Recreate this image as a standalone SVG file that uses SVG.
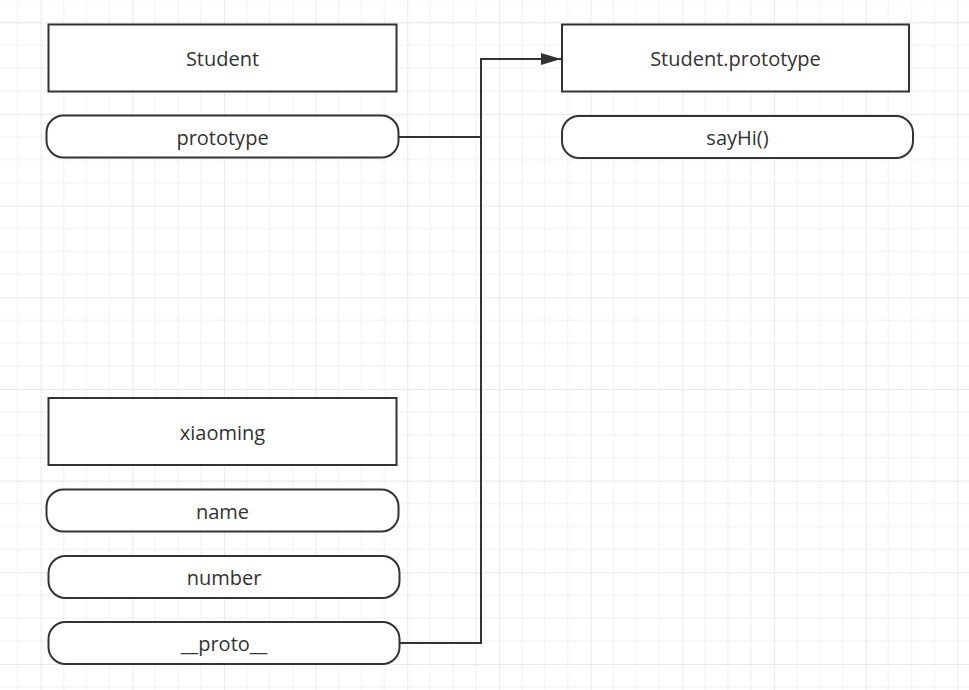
<svg xmlns="http://www.w3.org/2000/svg" width="969" height="690" viewBox="0 0 969 690">
<style>
.box{fill:#ffffff;stroke:#333333;stroke-width:2}
.lbl{font-family:"Open Sans","Noto Sans","Liberation Sans",sans-serif;font-size:20px;fill:#333333;text-anchor:middle}
.conn{fill:none;stroke:#333333;stroke-width:2}
</style>
<defs>
<pattern id="grid" patternUnits="userSpaceOnUse" x="40.6" y="22.3" width="91.67" height="91.67">
<path d="M22.92 0V91.67M45.83 0V91.67M68.75 0V91.67M0 22.92H91.67M0 45.83H91.67M0 68.75H91.67" stroke="#f0f0f0" stroke-width="1" fill="none"/>
<path d="M0 0V91.67M0 0H91.67" stroke="#e3e3e3" stroke-width="1.5" fill="none"/>
</pattern>
<marker id="arrow" markerUnits="userSpaceOnUse" markerWidth="20" markerHeight="14" refX="20" refY="7" orient="auto">
<path d="M0 1L20 7L0 13Z" fill="#333333"/>
</marker>
</defs>
<rect width="969" height="690" fill="#ffffff"/>
<rect width="969" height="690" fill="url(#grid)"/>
<g id="connectors">
<path class="conn" d="M398.5 137H481V59H561" marker-end="url(#arrow)"/>
<path class="conn" d="M399.5 643H481V59"/>
</g>
<g id="student">
<rect class="box" x="48.5" y="24.5" width="348" height="67"/>
<text class="lbl" x="222.5" y="66">Student</text>
</g>
<g id="student-prototype-prop">
<rect class="box" x="46.5" y="115.5" width="352" height="42" rx="17" ry="17"/>
<text class="lbl" x="222.5" y="145">prototype</text>
</g>
<g id="student-prototype">
<rect class="box" x="562" y="24.5" width="347" height="67"/>
<text class="lbl" x="735.5" y="66">Student.prototype</text>
</g>
<g id="sayhi">
<rect class="box" x="562" y="116" width="351" height="42" rx="17" ry="17"/>
<text class="lbl" x="737.5" y="145">sayHi()</text>
</g>
<g id="xiaoming">
<rect class="box" x="48.5" y="398" width="348" height="67"/>
<text class="lbl" x="222.5" y="440">xiaoming</text>
</g>
<g id="name">
<rect class="box" x="46.5" y="489.5" width="352" height="42" rx="17" ry="17"/>
<text class="lbl" x="222.5" y="518.5">name</text>
</g>
<g id="number">
<rect class="box" x="48.5" y="556" width="351" height="42" rx="17" ry="17"/>
<text class="lbl" x="224" y="585">number</text>
</g>
<g id="proto">
<rect class="box" x="48.5" y="622" width="351" height="42" rx="17" ry="17"/>
<text class="lbl" x="224" y="651">__proto__</text>
</g>
</svg>
